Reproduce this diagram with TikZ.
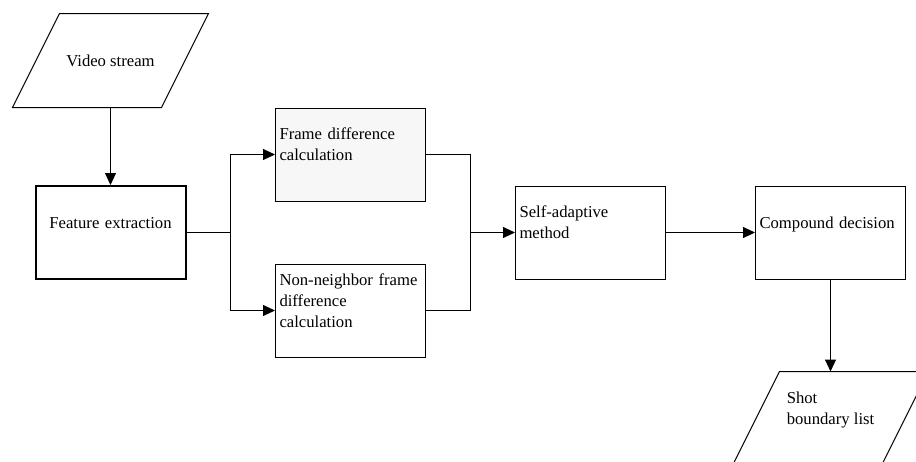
\documentclass[tikz,border=0pt]{standalone}
\usepackage{fontspec}
\setmainfont{Liberation Serif}
\usepackage{tikz}
\usetikzlibrary{arrows.meta, positioning}
\newcommand{\lowpad}{\rule[-15pt]{0pt}{0pt}}

\begin{document}
\begin{tikzpicture}[x=0.75pt, y=-0.75pt, line width=0.75pt,
		>={Triangle[length=9pt,width=8.25pt]},
		every node/.style={font=\fontsize{12.5pt}{15.75pt}\selectfont},
		procbox/.style={draw, minimum width=112.5pt, minimum height=69.75pt, inner xsep=3pt, text width=106.5pt, align=left},
		iobox/.style={minimum width=146.25pt, minimum height=69.75pt, align=left}]
		\useasboundingbox (0,0) rectangle (916,461);
		\clip (0,0) rectangle (916,461);
		\draw (110.5,60.5) node[iobox] (video) {Video stream}
		(110.5,232.5) node[procbox, align=center, line width=1.5pt] (feat) {Feature extraction\lowpad}
		(350.5,154.5) node[procbox, fill=black!3] (fdiff) {Frame difference\\calculation\lowpad}
		(350.5,310.5) node[procbox] (nndiff) {Non-neighbor frame\\difference\\calculation\lowpad}
		(590.5,232.5) node[procbox] (adapt) {Self-adaptive\\method\lowpad}
		(830.5,232.5) node[procbox] (decide) {Compound decision\lowpad}
		(830.5,418.5) node[iobox] (shots) {Shot\\boundary list\lowpad};
		\coordinate (split) at (230.5,232.5);
		\coordinate (merge) at (470.5,232.5);
		
		% slanted input/output outlines
		\foreach \io in {video, shots}
		\draw ([xshift=35.25pt]\io.north west) -- (\io.north east) -- ([xshift=-35.25pt]\io.south east) -- (\io.south west) -- cycle;
		
		\draw[->] (video) -- (feat);
		\draw (feat) -- (split);
		\draw[->] (split) |- (fdiff);
		\draw[->] (split) |- (nndiff);
		\draw (fdiff) -| (merge);
		\draw (nndiff) -| (merge);
		\draw[->] (merge) -- (adapt);
		\draw[->] (adapt) -- (decide);
		\draw[->] (decide) -- (shots);
	\end{tikzpicture}
\end{document}
